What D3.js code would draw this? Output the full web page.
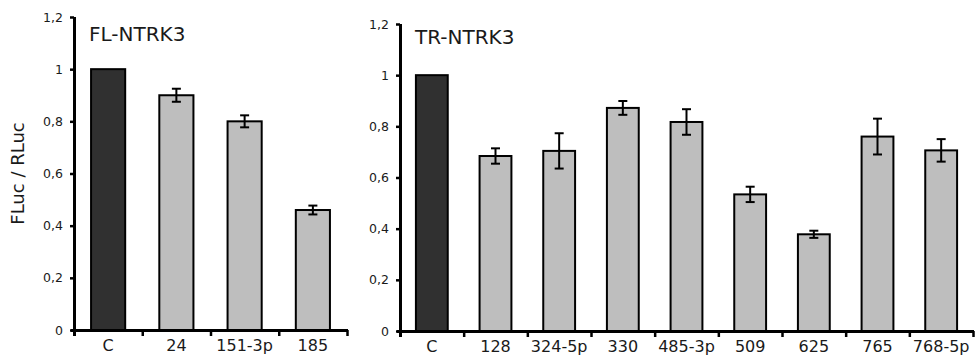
<!DOCTYPE html>
<html>
<head>
<meta charset="utf-8">
<script src="https://cdn.jsdelivr.net/npm/d3@7"></script>
<style>
  html, body { margin: 0; padding: 0; background: #fff; }
  svg { display: block; font-family: "DejaVu Sans", Verdana, sans-serif; }
</style>
</head>
<body>
<div id="chart"></div>
<script>
// FL-NTRK3 panel
const flCategories = ['C', '24', '151-3p', '185'];
const flValues = [1.0, 0.90, 0.80, 0.46];
const flErrors = [0, 0.025, 0.023, 0.017];

// TR-NTRK3 panel
const trCategories = ['C', '128', '324-5p', '330', '485-3p', '509', '625', '765', '768-5p'];
const trValues = [1.0, 0.684, 0.704, 0.872, 0.817, 0.534, 0.378, 0.760, 0.706];
const trErrors = [0, 0.03, 0.069, 0.027, 0.05, 0.03, 0.014, 0.07, 0.044];

const yTickValues = [0, 0.2, 0.4, 0.6, 0.8, 1, 1.2];
const yTickLabels = ['0', '0,2', '0,4', '0,6', '0,8', '1', '1,2'];

const width = 978, height = 364;
const svg = d3.select('#chart').append('svg')
  .attr('width', width)
  .attr('height', height);

function drawPanel(opts) {
  const { categories, values, errors, title, titleY, x0, x1, yTop, yBottom } = opts;

  const g = svg.append('g');

  const x = d3.scaleBand()
    .domain(categories)
    .range([x0, x1])
    .paddingInner(0.5)
    .paddingOuter(0.25);

  // boundary ticks between categories
  const xb = d3.scaleLinear().domain([0, categories.length]).range([x0, x1]);

  const y = d3.scaleLinear()
    .domain([0, 1.2])
    .range([yBottom, yTop]);

  // bars
  g.selectAll('rect.bar')
    .data(values)
    .join('rect')
      .attr('class', 'bar')
      .attr('x', (d, i) => x(categories[i]))
      .attr('y', d => y(d))
      .attr('width', x.bandwidth())
      .attr('height', d => y(0) - y(d))
      .attr('fill', (d, i) => i === 0 ? '#303030' : '#bebebe')
      .attr('stroke', '#000')
      .attr('stroke-width', 2);

  // error bars
  const capW = 4.5;
  const err = g.selectAll('g.err')
    .data(values.map((v, i) => ({ v, e: errors[i], c: categories[i] })).filter(d => d.e > 0))
    .join('g')
      .attr('class', 'err')
      .attr('stroke', '#000')
      .attr('stroke-width', 2);

  err.append('line')
    .attr('x1', d => x(d.c) + x.bandwidth() / 2)
    .attr('x2', d => x(d.c) + x.bandwidth() / 2)
    .attr('y1', d => y(d.v + d.e))
    .attr('y2', d => y(d.v - d.e));
  err.append('line')
    .attr('x1', d => x(d.c) + x.bandwidth() / 2 - capW)
    .attr('x2', d => x(d.c) + x.bandwidth() / 2 + capW)
    .attr('y1', d => y(d.v + d.e))
    .attr('y2', d => y(d.v + d.e));
  err.append('line')
    .attr('x1', d => x(d.c) + x.bandwidth() / 2 - capW)
    .attr('x2', d => x(d.c) + x.bandwidth() / 2 + capW)
    .attr('y1', d => y(d.v - d.e))
    .attr('y2', d => y(d.v - d.e));

  // y axis
  const yAxis = g.append('g')
    .attr('transform', `translate(${x0},0)`)
    .call(d3.axisLeft(y)
      .tickValues(yTickValues)
      .tickFormat((d, i) => yTickLabels[i])
      .tickSize(4)
      .tickSizeOuter(0)
      .tickPadding(7));
  yAxis.attr('font-size', null).attr('font-family', null);
  yAxis.select('.domain').attr('stroke-width', 3)
    .attr('d', `M0.5,${yTop}V${yBottom + 6}`);
  yAxis.selectAll('.tick line').attr('stroke-width', 2.5);
  yAxis.selectAll('text')
    .style('font-size', '12.5px')
    .attr('fill', '#1a1a1a');

  // x axis: boundary ticks
  const xTicks = g.append('g')
    .attr('transform', `translate(0,${yBottom})`)
    .call(d3.axisBottom(xb)
      .tickValues(d3.range(1, categories.length + 1))
      .tickFormat('')
      .tickSize(6)
      .tickSizeOuter(0));
  xTicks.select('.domain').attr('stroke-width', 3)
    .attr('d', `M${x0 - 3},0.5H${x1 + 1}`);
  xTicks.selectAll('.tick line').attr('stroke-width', 2.5);

  // x axis: category labels
  const xLabels = g.append('g')
    .attr('transform', `translate(0,${yBottom})`)
    .call(d3.axisBottom(x).tickSize(0).tickPadding(10));
  xLabels.attr('font-size', null).attr('font-family', null);
  xLabels.select('.domain').remove();
  xLabels.selectAll('text')
    .style('font-size', '16px')
    .attr('fill', '#1a1a1a');

  // panel title
  g.append('text')
    .attr('x', x0 + 15)
    .attr('y', titleY)
    .style('font-size', '20px')
    .attr('fill', '#1a1a1a')
    .text(title);

  return y;
}

const yLeft = drawPanel({
  categories: flCategories, values: flValues, errors: flErrors,
  title: 'FL-NTRK3', titleY: 40.5, x0: 74, x1: 347, yTop: 17, yBottom: 330
});

drawPanel({
  categories: trCategories, values: trValues, errors: trErrors,
  title: 'TR-NTRK3', titleY: 43.5, x0: 400, x1: 973, yTop: 24, yBottom: 331
});

// y axis title
svg.append('text')
  .attr('transform', `translate(24,${(yLeft(0) + yLeft(1.2)) / 2}) rotate(-90)`)
  .attr('text-anchor', 'middle')
  .style('font-size', '18px')
  .attr('fill', '#1a1a1a')
  .text('FLuc / RLuc');
</script>
</body>
</html>
